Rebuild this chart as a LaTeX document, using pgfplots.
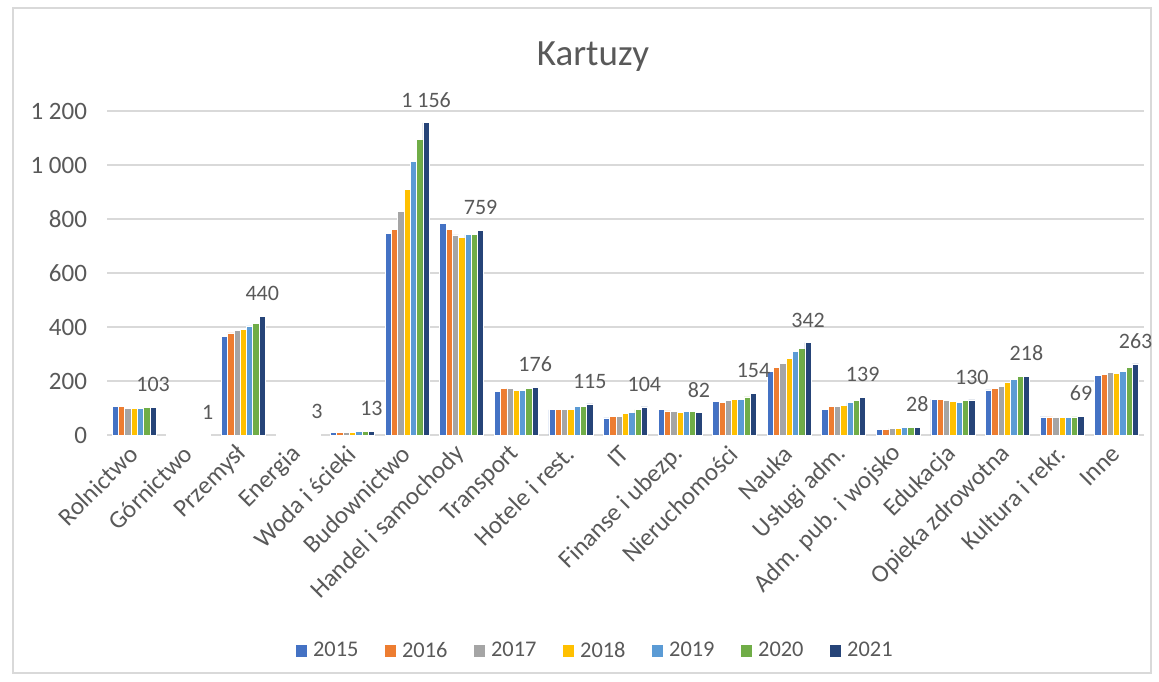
\documentclass[border=0pt]{standalone}
\usepackage{pgfplots}
\pgfplotsset{compat=1.18}
\usepackage{pgfplotstable}
\usepackage{fontspec}
\setmainfont{Carlito}
\definecolor{c1}{HTML}{4472C4}
\definecolor{c2}{HTML}{ED7D31}
\definecolor{c3}{HTML}{A5A5A5}
\definecolor{c4}{HTML}{FFC000}
\definecolor{c5}{HTML}{5B9BD5}
\definecolor{c6}{HTML}{70AD47}
\definecolor{c7}{HTML}{264478}
\definecolor{txt}{HTML}{595959}
\definecolor{gridc}{HTML}{D9D9D9}

\pgfplotstableread{
x  a    b    c    d    e    f    g
0  106  106  100  100  98   103  103
1  1    1    1    1    1    1    1
2  365  378  388  390  404  414  440
3  3    3    3    3    3    3    3
4  11   9    8    10   13   14   13
5  745  760  827  911  1012 1096 1156
6  783  760  741  731  742  742  759
7  161  173  173  166  166  171  176
8  93   93   94   93   106  106  115
9  63   70   68   81   84   94   104
10 94   89   88   82   88   88   82
11 125  122  127  133  133  141  154
12 237  251  266  284  311  322  342
13 95   105  107  110  120  127  139
14 22   22   25   25   27   27   28
15 133  133  128  125  122  127  130
16 167  172  179  196  205  216  218
17 67   67   64   64   64   67   69
18 221  224  232  228  237  249  263
}\data

\begin{document}
\begin{tikzpicture}
\path[use as bounding box, fill=white] (0pt,0pt) rectangle (579.5pt,340.5pt);
\draw[gridc, line width=0.75pt] (6.5pt,4pt) rectangle (575.5pt,336.5pt);
\node[text=txt, font=\fontsize{18.5}{22}\selectfont] at (296.5pt,312pt) {Kartuzy};
\begin{axis}[
  at={(53.5pt,123pt)}, anchor=south west,
  scale only axis, width=518.5pt, height=162pt,
  xmin=-0.5, xmax=18.5, ymin=0, ymax=1200,
  ybar=0pt, bar width=0.1152,
  axis line style={draw=none},
  major tick length=0pt,
  ymajorgrids, grid style={gridc, line width=0.75pt},
  ytick={0,200,...,1200},
  xtick={0,...,18},
  xticklabels={Rolnictwo,Górnictwo,Przemysł,Energia,Woda i ścieki,Budownictwo,Handel i samochody,Transport,Hotele i rest.,IT,Finanse i ubezp.,Nieruchomości,Nauka,Usługi adm.,Adm. pub. i wojsko,Edukacja,Opieka zdrowotna,Kultura i rekr.,Inne},
  tick label style={text=txt},
  yticklabel style={font=\fontsize{12.5}{14}\selectfont, xshift=-6.5pt},
  xticklabel style={font=\fontsize{12.5}{14}\selectfont, xshift=2pt, yshift=-5pt, rotate=45, anchor=east},
  /pgf/number format/.cd, 1000 sep={\ }, assume math mode=true, /pgfplots/.cd,
  legend columns=7,
  legend style={at={(0.4716,-0.6667)}, anchor=center, draw=none, fill=none,
    font=\fontsize{11.2}{13}\selectfont, text=txt,
    /tikz/every even column/.append style={column sep=11pt},
    /tikz/every odd column/.append style={column sep=1pt}},
  legend image code/.code={\fill[#1,draw=none] (0pt,-2.9pt) rectangle (5.8pt,2.9pt);},
  every axis plot/.append style={draw=white, line width=0.4pt},
  clip=false,
]
\addplot[fill=c1] table[x=x,y=a]{\data};
\addplot[fill=c2] table[x=x,y=b]{\data};
\addplot[fill=c3] table[x=x,y=c]{\data};
\addplot[fill=c4] table[x=x,y=d]{\data};
\addplot[fill=c5] table[x=x,y=e]{\data};
\addplot[fill=c6] table[x=x,y=f]{\data};
\addplot[fill=c7, nodes near coords,
  every node near coord/.append style={font=\fontsize{11}{13}\selectfont, text=txt, inner sep=2pt, yshift=5.5pt}]
  table[x=x,y=g]{\data};
\legend{2015,2016,2017,2018,2019,2020,2021}
\end{axis}
\end{tikzpicture}
\end{document}
